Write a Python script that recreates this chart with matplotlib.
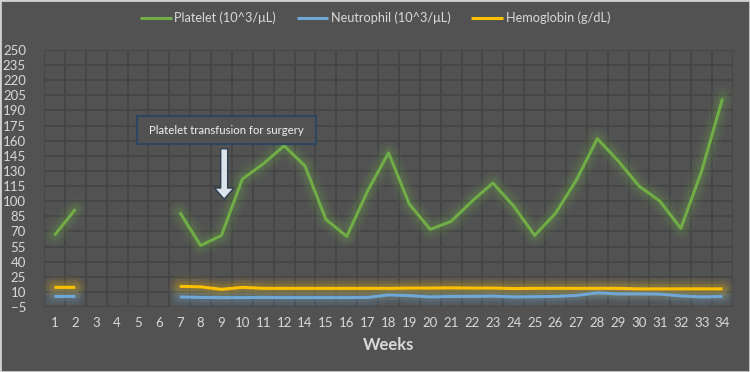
import numpy as np
import matplotlib
matplotlib.use("Agg")
import matplotlib.pyplot as plt
from matplotlib.patches import Rectangle

weeks = ["1", "2", "3", "4", "5", "6", "7", "8", "9", "10", "11", "12", "14", "15", "16",
         "17", "18", "19", "20", "21", "22", "23", "24", "25", "26", "27", "28", "29",
         "30", "31", "32", "33", "34"]
nan = np.nan
platelet = [66, 92, nan, nan, nan, nan, 89, 56, 66, 122, 137, 155, 135, 82, 65,
            110, 148, 97, 72, 80, 100, 118, 95, 66, 88, 121, 162, 140, 115, 100, 73, 130, 202]
neutrophil = [5.5, 5.5, nan, nan, nan, nan, 5, 4.5, 4.3, 4.3, 4.5, 4.3, 4.3, 4.3, 4.3,
              4.5, 7, 6.3, 5, 5.5, 5.5, 5.8, 5, 5.2, 5.5, 6.5, 9, 8, 8, 7.8, 6, 5, 5.5]
hemoglobin = [14.5, 14.5, nan, nan, nan, nan, 15.5, 15, 12.5, 14.5, 13.5, 13.5, 13.5, 13.5, 13.5,
              13.5, 13.5, 13.8, 13.8, 14, 13.8, 13.8, 13.3, 13.5, 13.5, 13.5, 13.5, 13.5,
              13, 13, 13, 13, 13]
series_names = ["Platelet (10^3/\u03bcL)", "Neutrophil (10^3/\u03bcL)", "Hemoglobin (g/dL)"]
annotation_text = "Platelet transfusion for surgery"
yticks = list(range(-5, 251, 15))

plt.rcParams['font.family'] = ['Lato', 'DejaVu Sans']
bg = "#525252"
txt = "#d9d9d9"
grid_c = "#454545"
colors = ["#70ad47", "#6fa8d6", "#ffc000"]

fig = plt.figure(figsize=(7.5, 3.72), dpi=100, facecolor=bg)
ax = fig.add_axes([44/750, 1-307/372, (733-44)/750, (307-50)/372])
ax.set_facecolor(bg)

x = np.arange(len(weeks))
handles = []
for vals, c, name in zip([platelet, neutrophil, hemoglobin], colors, series_names):
    v = np.array(vals, dtype=float)
    for lw, a in [(16, 0.06), (11, 0.09), (7, 0.13)]:
        ax.plot(x, v, color=c, lw=lw, alpha=a, solid_capstyle='round', zorder=3)
    h, = ax.plot(x, v, color=c, lw=2.2, zorder=4, label=name, solid_capstyle='butt')
    handles.append(h)

ax.set_xlim(-0.5, len(weeks) - 0.5)
ax.set_ylim(-5, 250)
ax.set_yticks(yticks)
ax.set_xticks(x)
ax.set_xticklabels(weeks)
ax.grid(False)
for t in np.arange(-0.5, len(weeks), 1):
    ax.axvline(t, color=grid_c, lw=1.3, zorder=1)
for t in yticks:
    ax.axhline(t, color=grid_c, lw=1.3, zorder=1)
for s in ax.spines.values():
    s.set_visible(False)
ax.tick_params(axis='both', which='both', length=0, colors=txt, labelsize=9.5)
ax.tick_params(axis='y', pad=13)
ax.tick_params(axis='x', pad=7)
ax.set_xlabel("Weeks", color=txt, fontsize=12, fontweight='bold', labelpad=6)

# annotation box
ax.add_patch(Rectangle((3.97, 156.5), 8.56, 28.5, facecolor=bg, edgecolor="#2c4560",
                       lw=1.5, zorder=5))
ax.text(8.25, 170.5, annotation_text, color="#f0f0f0", fontsize=8.2, ha='center', va='center', zorder=6)
ax.annotate("", xy=(8.13, 102), xytext=(8.13, 152),
            arrowprops=dict(arrowstyle="simple,head_width=1.4,head_length=0.8,tail_width=0.5",
                            fc="#dde4ec", ec="#2f3f52", lw=1.0, shrinkA=0, shrinkB=0), zorder=6)

fig.legend(handles=handles, loc='center', bbox_to_anchor=(0.5, 1-18/372), ncol=3, frameon=False,
           fontsize=9.2, labelcolor=txt, handlelength=2.5, handletextpad=0.2, columnspacing=1.6)

# thin light border
fig.add_artist(Rectangle((0, 0), 1, 1, transform=fig.transFigure, fill=False,
                         edgecolor="#d0d0d0", lw=2))

fig.savefig("out.png", dpi=100, facecolor=bg)
